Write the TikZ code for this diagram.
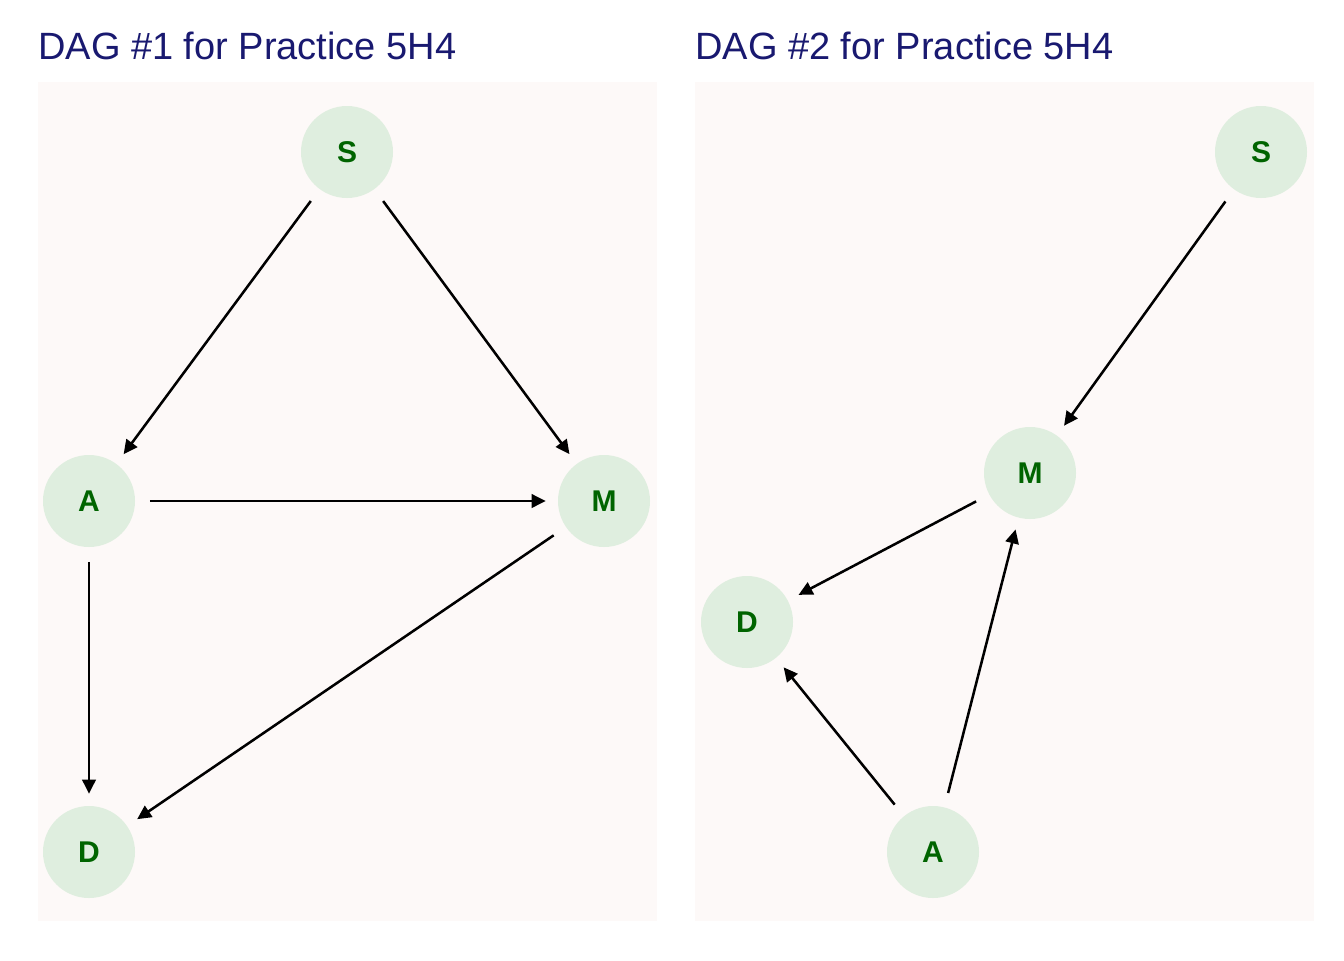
\documentclass[tikz,border=0pt]{standalone}
\usepackage{fontspec}
\setmainfont{Liberation Sans}
\usepackage{tikz}
\usetikzlibrary{positioning}
\usetikzlibrary{arrows.meta}
\definecolor{paneltint}{HTML}{FDF9F8}
\definecolor{nodetint}{HTML}{DFEEDF}
\definecolor{labelgreen}{HTML}{006400}
\definecolor{titleblue}{HTML}{191970}

\begin{document}
\begin{tikzpicture}[x=0.75pt,y=-0.75pt]
        \tikzstyle{vertex}=[circle,fill=nodetint,text=labelgreen,
            minimum size=69pt,inner sep=0pt,font=\fontsize{22.5}{24}\selectfont\bfseries]
        \tikzstyle{edge}=[-{Triangle[length=10.5pt,width=10pt]}, line width=1.9pt,
            shorten <=11pt, shorten >=9pt]
        \tikzstyle{heading}=[anchor=base west,inner sep=0pt,text=titleblue,
            font=\fontsize{28.5}{30}\selectfont]
            \useasboundingbox (0,0) rectangle (1344,960);
            \fill[white] (0,0) rectangle (1344,960);

            % panels
            \fill[paneltint] (38,82) rectangle (657,921);
            \fill[paneltint] (695,82) rectangle (1314,921);
            \node[heading] (t1) at (38,59) {DAG \#1 for Practice 5H4};
            \node[heading] (t2) at (695,59) {DAG \#2 for Practice 5H4};

            % DAG 1
            \node[vertex] (s1) at (347,152) {S};
            \node[vertex] (a1) at (89,501) {A};
            \node[vertex] (m1) at (604,501) {M};
            \node[vertex] (d1) at (89,852) {D};

            \draw[edge] (s1) -- (a1);
            \draw[edge] (s1) -- (m1);
            \draw[edge] (a1) -- (m1);
            \draw[edge] (a1) -- (d1);
            \draw[edge] (m1) -- (d1);

            % DAG 2
            \node[vertex] (s2) at (1261,152) {S};
            \node[vertex] (m2) at (1030,473) {M};
            \node[vertex] (d2) at (747,622) {D};
            \node[vertex] (a2) at (933,852) {A};

            \draw[edge] (s2) -- (m2);
            \draw[edge] (m2) -- (d2);
            \draw[edge] (a2) -- (d2);
            \draw[edge] (a2) -- (m2);
        \end{tikzpicture}
\end{document}
